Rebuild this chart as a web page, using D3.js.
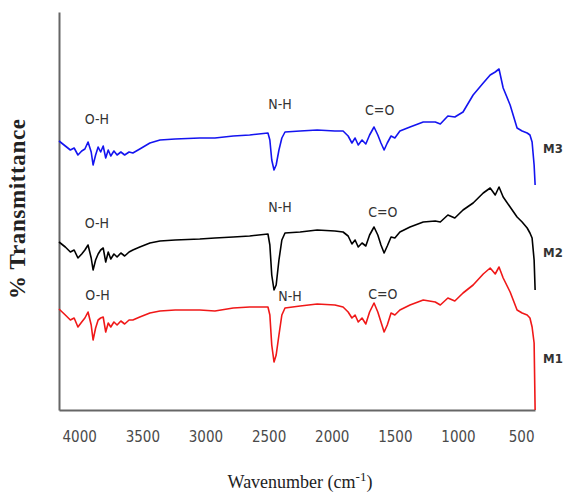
<!DOCTYPE html>
<html>
<head>
<meta charset="utf-8">
<script src="https://cdn.jsdelivr.net/npm/d3@7"></script>
<style>
  body { margin: 0; background: #fff; }
  svg { display: block; }
  .tick text { font-family: "DejaVu Sans Condensed", "Liberation Sans Narrow", sans-serif; font-stretch: condensed; font-size: 15px; fill: #4a4a4a; }
  .band { font-family: "DejaVu Sans Condensed", "Liberation Sans", sans-serif; font-stretch: condensed; font-size: 14px; fill: #333; }
  .series { font-family: "DejaVu Sans Condensed", "Liberation Sans Narrow", sans-serif; font-stretch: condensed; font-size: 13px; font-weight: bold; fill: #333; }
</style>
</head>
<body>
<svg id="chart" width="563" height="495"></svg>
<script>
// FTIR spectra of M1, M2, M3 (offset, % transmittance)
const wavenumbers = [4160, 4110, 4070, 4040, 4010, 3980, 3955, 3930, 3905, 3890,
  3870, 3850, 3830, 3810, 3790, 3770, 3750, 3725, 3700, 3670,
  3640, 3605, 3575, 3520, 3440, 3360, 3240, 3045, 2925, 2780,
  2650, 2505, 2490, 2475, 2457, 2440, 2418, 2395, 2370, 2250,
  2115, 1975, 1910, 1870, 1840, 1815, 1790, 1760, 1730, 1700,
  1665, 1635, 1610, 1585, 1560, 1530, 1500, 1460, 1380, 1275,
  1180, 1140, 1080, 1025, 960, 880, 800, 745, 705, 675,
  642, 587, 532, 492, 452, 430, 413, 397, 389];

const m3 = [67.25, 66, 65, 65.5, 63.75, 64.75, 65.25, 67, 64.5, 61.25,
  63.75, 65.75, 64.5, 66, 63, 65, 63.5, 64.75, 63.75, 64.5,
  63.75, 64.5, 64.25, 65.25, 66.75, 67.5, 67.75, 68, 68, 68.5,
  68.75, 69.25, 67.5, 62.5, 60, 61.25, 65, 68, 69.5, 69.75,
  70, 69.75, 69.75, 68.5, 66.75, 68, 66.25, 67.5, 66.5, 68.75,
  70.75, 68.75, 66.75, 65, 66.75, 68.5, 68, 69.75, 70.75, 72,
  72, 71.5, 73.5, 73.25, 74.5, 78.75, 81.75, 83.75, 84.5, 85.25,
  80.5, 76.25, 70.5, 69.75, 69.25, 68.75, 67, 61.25, 56.25];

const m2 = [42, 40.75, 39.5, 40, 38, 39, 40, 41.25, 38, 35,
  37.5, 39, 40, 40.5, 37, 39.5, 37.75, 39, 38.25, 39.25,
  38.5, 39.5, 40, 40.75, 41.75, 42.25, 42.5, 42.75, 43, 43.25,
  43.5, 44, 41.25, 33.75, 30, 31.25, 37.5, 42.5, 44.25, 44.5,
  45, 44.75, 44.5, 43.5, 41.5, 42.5, 40.75, 41.75, 41, 43.75,
  45.75, 43.75, 41.25, 39.25, 41, 43.25, 43, 44.5, 45.75, 47,
  47.25, 47, 48.75, 48, 50, 51.75, 54.25, 55.5, 53.75, 55.75,
  53.25, 50.75, 48.25, 47, 45.5, 44.25, 43, 37.5, 30];

const m1 = [25.25, 23.75, 22.5, 23, 20.75, 22, 23, 24.5, 21.25, 17.5,
  20.5, 22.5, 23, 23.25, 19.5, 21.75, 20.75, 22, 21.25, 22.25,
  21.5, 22.5, 22.5, 23.25, 24.25, 24.75, 25, 25, 24.75, 25.5,
  25.75, 25.75, 23.75, 16.25, 12, 13.75, 18.75, 23.75, 25.5, 26,
  26.5, 26.25, 25.75, 24.5, 23, 23.75, 22, 23, 21.5, 24.5,
  26.75, 24.5, 22, 19.5, 21.25, 24.25, 23.75, 25, 26.25, 27.5,
  27, 26.25, 28, 27.25, 29.25, 31.25, 34, 35.5, 34, 35.75,
  33, 29.5, 25, 24.25, 23.75, 23, 20.75, 16.75, 0];

const xTicks = [4000, 3500, 3000, 2500, 2000, 1500, 1000, 500];

// band labels: [text, wavenumber, value]
const bandLabels = [
  ["O-H", 3860, 72.75], ["N-H", 2410, 76.5], ["C=O", 1620, 75],
  ["O-H", 3860, 46.75], ["N-H", 2410, 50.75], ["C=O", 1595, 49.5],
  ["O-H", 3855, 28.75], ["N-H", 2330, 28.5], ["C=O", 1595, 29]
];

const seriesNames = ["M3", "M2", "M1"];
const seriesValues = [m3, m2, m1];
const seriesColors = ["#1414f0", "#000000", "#f01818"];
const seriesLabelY = [65.5, 39.5, 13];

const svg = d3.select("#chart");

const x = d3.scaleLinear().domain([4160, 390]).range([59, 535]);
const y = d3.scaleLinear().domain([0, 99.5]).range([410, 12]);

// axes: plain lines, no tick marks
svg.append("g")
  .attr("transform", `translate(0, ${y(0)})`)
  .call(d3.axisBottom(x).tickValues(xTicks).tickFormat(d3.format("d"))
    .tickSize(0).tickSizeOuter(0).tickPadding(21));
svg.append("g")
  .attr("transform", `translate(${x(4160)}, 0)`)
  .call(d3.axisLeft(y).tickValues([]).tickSizeOuter(0));
svg.selectAll(".domain").attr("stroke", "#666").attr("stroke-width", 2);

// spectra
const line = d3.line()
  .x((d, i) => x(wavenumbers[i]))
  .y(d => y(d));

seriesValues.forEach((vals, i) => {
  svg.append("path")
    .datum(vals)
    .attr("fill", "none")
    .attr("stroke", seriesColors[i])
    .attr("stroke-width", 1.6)
    .attr("stroke-linejoin", "round")
    .attr("d", line);

  svg.append("text")
    .attr("class", "series")
    .attr("x", 553)
    .attr("y", y(seriesLabelY[i]))
    .attr("dy", "0.35em")
    .attr("text-anchor", "middle")
    .text(seriesNames[i]);
});

svg.selectAll(".band")
  .data(bandLabels)
  .enter().append("text")
  .attr("class", "band")
  .attr("x", d => x(d[1]))
  .attr("y", d => y(d[2]))
  .attr("dy", "0.35em")
  .attr("text-anchor", "middle")
  .text(d => d[0]);

// axis titles
const xTitle = svg.append("text")
  .attr("x", 300)
  .attr("y", 488)
  .attr("text-anchor", "middle")
  .attr("font-family", "'Liberation Serif', 'Times New Roman', serif")
  .attr("font-size", "18px")
  .attr("fill", "#222");
xTitle.append("tspan").text("Wavenumber (cm");
xTitle.append("tspan").attr("dy", "-7").attr("font-size", "13px").text("-1");
xTitle.append("tspan").attr("dy", "7").text(")");

svg.append("text")
  .attr("transform", "translate(25, 209) rotate(-90)")
  .attr("text-anchor", "middle")
  .attr("font-family", "'Liberation Serif', 'Times New Roman', serif")
  .attr("font-weight", "bold")
  .attr("font-size", "23px")
  .attr("textLength", 180)
  .attr("lengthAdjust", "spacing")
  .attr("fill", "#222")
  .text("% Transmittance");
</script>
</body>
</html>
